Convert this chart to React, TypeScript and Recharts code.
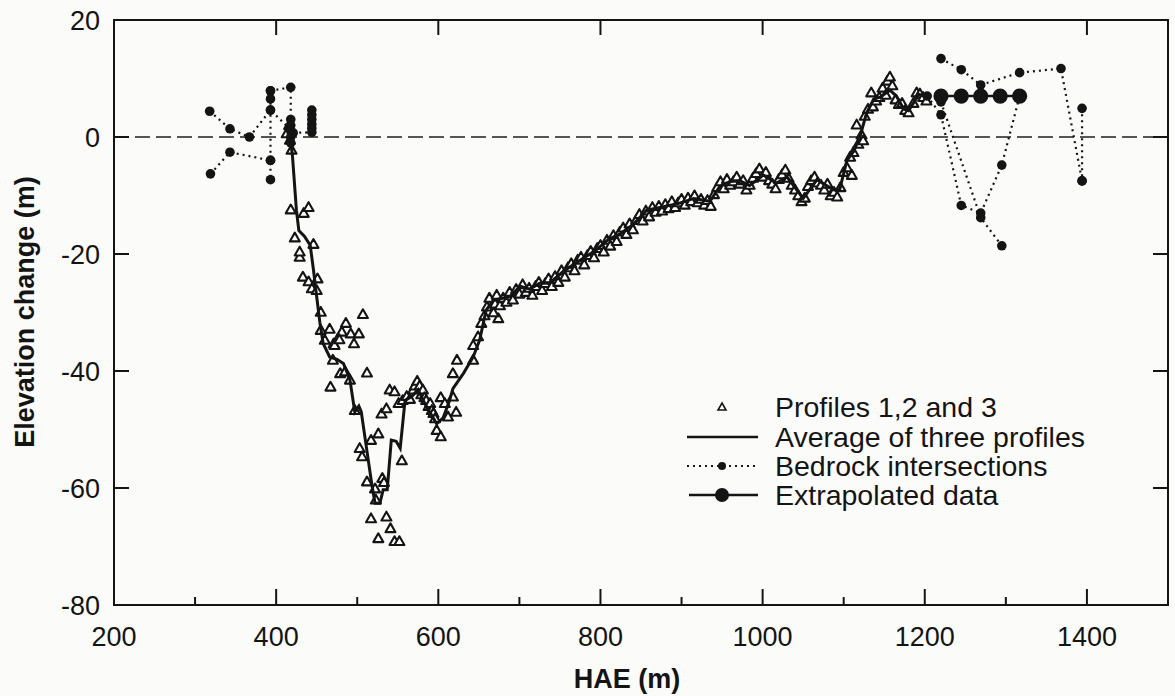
import React from "react";
import { ComposedChart, Scatter, XAxis, YAxis, ReferenceLine, ReferenceArea } from "recharts";

// profile triangles (HAE, elevation change)
const profilesDrop = [
  [413, 0.6], [416, 2], [417, -0.5], [419, -2.2], [418, -12.4], [423, -17.2], [429, -20.5], [429, -19.6],
  [434, -13], [440, -12], [446, -18.3], [433, -23.9], [440, -24.7], [444, -25.9], [450, -26.2], [451, -24.2],
  [455, -29.9], [455, -33], [460, -34.7], [466, -32.8], [471, -35.3], [476, -34.5], [481, -33.3], [486, -31.8],
  [492, -33.6], [496, -35.3], [502, -33.6], [507, -30.3], [470, -38.1], [479, -40.4], [485, -40.1], [467, -42.7],
  [472, -35.6], [478, -34.6], [491, -41.5], [512, -40.3], [497, -46.7], [503, -53.2], [506, -54.6], [512, -58.9],
  [517, -51.8], [526, -50.7], [530, -47.3], [536, -46.4], [522, -60.1], [523, -62], [531, -58.3], [533, -59],
  [517, -65.2], [536, -64.9], [541, -66.9], [526, -68.6], [546, -69.1], [552, -69.1], [555, -55.3],
];
const profilesRise = [
  [540, -43.2], [546, -43.5], [551, -45.5], [556, -45], [561, -44.3], [565, -44.8], [569, -43.2], [571, -42.5],
  [574, -41.7], [577, -42.5], [579, -44], [581, -43.2], [583, -44.5], [585, -45], [588, -46], [590, -45.5],
  [592, -46.7], [594, -47.2], [596, -48.1], [598, -50.1], [603, -51.2], [603, -44.5], [608, -45.5], [612, -47.8],
  [622, -47], [618, -44.4], [618, -40.4], [623, -38.1], [643, -38.1], [643, -35.6], [649, -34.1], [653, -31.8],
  [664, -28.4], [674, -31], [668, -30], [657, -30.5], [660, -29], [663, -27.5], [670, -28.5], [672, -27],
  [676, -28.8],
];
const profilesMid = [
  [680, -27.5], [684, -28.2], [688, -26.5], [692, -27.8], [696, -26], [700, -26.8], [704, -25.2], [708, -26.5],
  [712, -25.8], [716, -27], [720, -25.5], [724, -24.8], [728, -26.2], [732, -25], [736, -24.2], [740, -25.5],
  [744, -23.8], [748, -24.8], [752, -22.8], [756, -23.9], [760, -22.3], [764, -21.6], [768, -22.8], [772, -21],
  [776, -20.5], [780, -21.8], [784, -20.2], [788, -19.5], [792, -20.6], [796, -19], [800, -18.5], [804, -19.6],
  [808, -17.6], [812, -18.6], [816, -16.8], [820, -17.8], [824, -16.2], [828, -15.5], [832, -16.6], [836, -14.8],
  [840, -15.8], [844, -14.2], [848, -13.2], [852, -14.3], [856, -12.6], [860, -13.6], [864, -12], [868, -12.8],
  [872, -11.8], [876, -12.6], [880, -11.5], [884, -12.2], [888, -11], [892, -12], [896, -11.2], [900, -10.6],
  [904, -11.6], [908, -10.4], [912, -11], [916, -10], [920, -11.2], [924, -10.6], [928, -11.6], [932, -10.8],
  [936, -11.8], [940, -9.8], [944, -8.6], [948, -7.6], [952, -8.8], [956, -7.2], [960, -8.2], [964, -7.6],
  [968, -6.8], [972, -8], [976, -7.4], [980, -9], [984, -8.2], [988, -7], [992, -6.2], [996, -5.4],
];
const profilesUpper = [
  [1000, -6.8], [1004, -6], [1008, -7.4], [1012, -8], [1016, -8.8], [1020, -7.2], [1024, -6.4], [1028, -5.6],
  [1032, -7], [1036, -8.2], [1040, -9], [1044, -10], [1048, -11], [1052, -10.4], [1056, -8.4], [1060, -7.4],
  [1064, -6.8], [1068, -7.8], [1072, -8.2], [1076, -9], [1080, -8], [1084, -10], [1088, -9.4], [1092, -10.2],
  [1096, -8.6], [1100, -6], [1104, -5.2], [1108, -3.4], [1110, -6.5], [1112, -2.6], [1116, 2.1], [1118, -1.2],
  [1122, 0.4], [1124, -0.6], [1126, 3.6], [1130, 4.8], [1134, 7.6], [1136, 5.2], [1140, 6.2], [1144, 6.8],
  [1148, 8.4], [1152, 7.2], [1154, 9.6], [1157, 10.3], [1160, 8.8], [1164, 6.4], [1168, 5.6], [1172, 5.8],
  [1176, 4.6], [1180, 4.2], [1186, 5.8], [1190, 7.6], [1194, 7.4], [1198, 6.8], [1202, 6.2],
];

// average of the three profiles
const averageLine = [
  [417, 3], [418, -1], [420, -3], [425, -12.5], [428, -16], [435, -17], [442, -18.5], [446, -22.7],
  [450, -27.3], [454, -31.8], [458, -35.3], [466, -37.6], [475, -38], [483, -38.7], [491, -41.5], [497, -47],
  [502, -46], [505, -47], [512, -53.7], [518, -59.4], [522, -62.6], [528, -62.6], [532, -60.3], [537, -60.3],
  [542, -51.8], [548, -52], [553, -53.2], [559, -45], [567, -44.4], [575, -43.2], [585, -46], [598, -49],
  [606, -48], [614, -45], [618, -43], [631, -40.4], [643, -37.6], [651, -34.7], [659, -29.6], [668, -27.9],
  [688, -27.3], [701, -25.5], [713, -26], [725, -25], [737, -25], [754, -23], [770, -21.5], [795, -19.3],
  [810, -17.5], [825, -16.5], [840, -15], [857, -12.5], [875, -12], [898, -11.3], [915, -10.5], [935, -11],
  [947, -8.5], [960, -7.6], [972, -7.5], [984, -8.3], [1001, -6.5], [1017, -7.9], [1030, -6.8], [1050, -10.5],
  [1067, -7.3], [1087, -9], [1095, -9], [1104, -4], [1112, -2.5], [1120, 0], [1128, 4], [1137, 6.5],
  [1145, 6.8], [1157, 8], [1165, 7], [1174, 4.8], [1180, 4.5], [1193, 7.3], [1202, 6.8],
];

// bedrock intersections, each list is one dotted path
const bedrockPaths = [
  [[318, 4.4], [343, 1.4], [367, 0], [393, 4.6], [416, 1.5]],
  [[319, -6.3], [343, -2.6], [393, -4.0]],
  [[393, 7.9], [393, 6.5], [393, 4.6], [393, -4.0], [393, -7.3]],
  [[393, 7.9], [418, 8.5], [418, 3], [418, 2], [418, 1], [418, 0], [418, -1]],
  [[421, 0.7], [444, 0.8], [444, 1.5], [444, 2.2], [444, 3], [444, 3.8], [444, 4.6]],
  [[1220, 13.4], [1245, 11.5], [1269, 8.9], [1317, 11], [1368, 11.7], [1394, -7.5]],
  [[1203, 7], [1220, 3.8], [1245, -11.7], [1269, -13], [1295, -4.8], [1317, 7]],
  [[1220, 6], [1269, -13.8], [1295, -18.6]],
  [[1394, 4.9], [1394, -7.5]],
];

// extrapolated data
const extrapolatedX = [1220, 1245, 1269, 1293, 1317];
const extrapolatedY = [7, 7, 7, 7, 7];

const xTicks = [200, 300, 400, 500, 600, 700, 800, 900, 1000, 1100, 1200, 1300, 1400, 1500];
const yTicks = [-80, -60, -40, -20, 0, 20];

const W = 1175;
const H = 696;
const Y_AXIS_W = 114;
const X_AXIS_H = 91;
const MARGIN = { top: 20, right: 7, left: 0, bottom: 0 };
const PLOT_W = W - MARGIN.left - MARGIN.right - Y_AXIS_W;
const PLOT_H = H - MARGIN.top - MARGIN.bottom - X_AXIS_H;
const INK = "#141414";
const FONT = "'Liberation Sans', Arial, sans-serif";

const toPts = (arr: number[][]) => arr.map(([x, y]) => ({ x, y }));
const profiles = toPts([...profilesDrop, ...profilesRise, ...profilesMid, ...profilesUpper]);
const average = toPts(averageLine);
const extrapolated = extrapolatedX.map((x, i) => ({ x, y: extrapolatedY[i] }));

const Tri = (p: any) => {
  const { cx, cy } = p;
  return (
    <path
      d={`M${cx},${cy - 5}L${cx + 5},${cy + 3.8}L${cx - 5},${cy + 3.8}Z`}
      fill="#fff"
      stroke={INK}
      strokeWidth={2.1}
      strokeLinejoin="round"
    />
  );
};
const SmallDot = (p: any) => <circle cx={p.cx} cy={p.cy} r={4.8} fill={INK} />;
const BigDot = (p: any) => <circle cx={p.cx} cy={p.cy} r={7.6} fill={INK} />;
const NoDot = () => <g />;

const XTick = (props: any) => {
  const { x, y, payload } = props;
  const v = payload.value;
  const major = v % 200 === 0;
  return (
    <g>
      {v > 200 && v < 1500 && (
        <line x1={x} x2={x} y1={y} y2={y - (major ? 16 : 8)} stroke={INK} strokeWidth={2} />
      )}
      {major && v > 200 && (
        <line x1={x} x2={x} y1={y - PLOT_H} y2={y - PLOT_H + 15} stroke={INK} strokeWidth={2} />
      )}
      {major && (
        <text x={x} y={y + 41} textAnchor="middle" fontSize={27} fill={INK} fontFamily={FONT}>
          {v}
        </text>
      )}
    </g>
  );
};

const YTick = (props: any) => {
  const { x, y, payload } = props;
  const v = payload.value;
  const inner = v > -80 && v < 20;
  return (
    <g>
      {inner && <line x1={x} x2={x + 15} y1={y} y2={y} stroke={INK} strokeWidth={2} />}
      {inner && <line x1={x + PLOT_W - 15} x2={x + PLOT_W} y1={y} y2={y} stroke={INK} strokeWidth={2} />}
      <text x={x - 14} y={y + 10} textAnchor="end" fontSize={27} fill={INK} fontFamily={FONT}>
        {v}
      </text>
    </g>
  );
};

const legendRows = ["Profiles 1,2 and 3", "Average of three profiles", "Bedrock intersections", "Extrapolated data"];

export default function App() {
  const rowY = [407, 437, 466, 495];
  return (
    <div style={{ position: "absolute", left: 0, top: 0, width: W, height: H, background: "#fbfbfa", fontFamily: FONT }}>
      <ComposedChart width={W} height={H} margin={MARGIN}>
        <XAxis
          type="number"
          dataKey="x"
          domain={[200, 1500]}
          ticks={xTicks}
          interval={0}
          allowDataOverflow
          axisLine={false}
          tickLine={false}
          tickSize={0}
          tickMargin={0}
          height={X_AXIS_H}
          tick={<XTick />}
        />
        <YAxis
          type="number"
          dataKey="y"
          domain={[-80, 20]}
          ticks={yTicks}
          interval={0}
          allowDataOverflow
          axisLine={false}
          tickLine={false}
          tickSize={0}
          tickMargin={0}
          width={Y_AXIS_W}
          tick={<YTick />}
        />
        <ReferenceArea x1={200} x2={1500} y1={-80} y2={20} fill="none" stroke={INK} strokeWidth={2} strokeOpacity={1} />
        <ReferenceLine y={0} stroke="#555" strokeWidth={2} strokeDasharray="15 6" />
        <Scatter data={profiles} shape={Tri} isAnimationActive={false} />
        <Scatter
          data={average}
          shape={NoDot}
          line={{ stroke: INK, strokeWidth: 3 }}
          lineType="joint"
          isAnimationActive={false}
        />
        {bedrockPaths.map((path, i) => (
          <Scatter
            key={i}
            data={toPts(path)}
            shape={SmallDot}
            line={{ stroke: INK, strokeWidth: 2.2, strokeDasharray: "2 4" }}
            lineType="joint"
            isAnimationActive={false}
          />
        ))}
        <Scatter
          data={extrapolated}
          shape={BigDot}
          line={{ stroke: INK, strokeWidth: 2.6 }}
          lineType="joint"
          isAnimationActive={false}
        />
      </ComposedChart>
      <svg width={W} height={H} style={{ position: "absolute", left: 0, top: 0, pointerEvents: "none" }}>
        <text
          transform={`translate(34, 312) rotate(-90)`}
          textAnchor="middle"
          fontSize={27}
          fontWeight="bold"
          fill={INK}
          fontFamily={FONT}
        >
          Elevation change (m)
        </text>
        <text x={627} y={688} textAnchor="middle" fontSize={27} fontWeight="bold" fill={INK} fontFamily={FONT}>
          HAE (m)
        </text>
        <path
          d={`M722,${rowY[0] - 4}L726,${rowY[0] + 3}L718,${rowY[0] + 3}Z`}
          fill="#fff"
          stroke={INK}
          strokeWidth={1.6}
        />
        <line x1={687} x2={758} y1={rowY[1]} y2={rowY[1]} stroke={INK} strokeWidth={2.6} />
        <line x1={687} x2={758} y1={rowY[2]} y2={rowY[2]} stroke={INK} strokeWidth={2} strokeDasharray="2 4" />
        <circle cx={722} cy={rowY[2]} r={4} fill={INK} />
        <line x1={689} x2={758} y1={rowY[3]} y2={rowY[3]} stroke={INK} strokeWidth={2.6} />
        <circle cx={722} cy={rowY[3]} r={7} fill={INK} />
        {legendRows.map((t, i) => (
          <text key={t} x={775} y={rowY[i] + 10} fontSize={28.5} fill={INK} fontFamily={FONT}>
            {t}
          </text>
        ))}
      </svg>
    </div>
  );
}
